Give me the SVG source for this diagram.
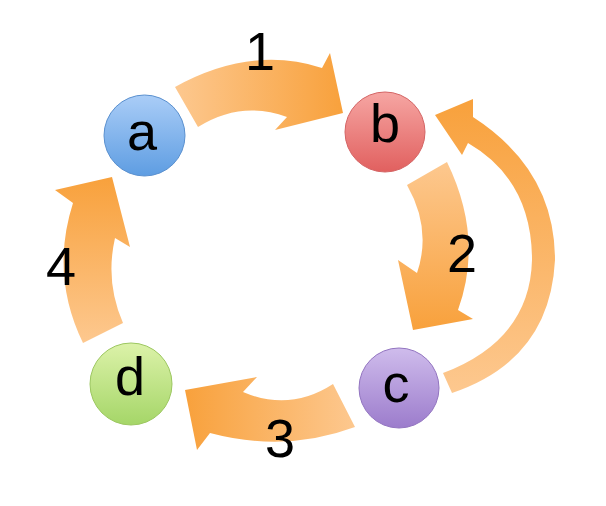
<svg xmlns="http://www.w3.org/2000/svg" width="606" height="506" viewBox="0 0 606 506">
<defs>
<style>
.arrow{stroke:none}
.lbl{font-family:"Liberation Sans",Arial,sans-serif;font-size:54px;fill:#000;text-anchor:middle}
.node{stroke-width:1}
</style>
<linearGradient id="g1" gradientUnits="userSpaceOnUse" x1="175" y1="0" x2="343" y2="0"><stop offset="0" stop-color="#fdc88f"/><stop offset="1" stop-color="#f8a13c"/></linearGradient>
<linearGradient id="g2" gradientUnits="userSpaceOnUse" x1="0" y1="162" x2="0" y2="330"><stop offset="0" stop-color="#fdc88f"/><stop offset="1" stop-color="#f8a13c"/></linearGradient>
<linearGradient id="g3" gradientUnits="userSpaceOnUse" x1="355" y1="0" x2="185" y2="0"><stop offset="0" stop-color="#fdc88f"/><stop offset="1" stop-color="#f8a13c"/></linearGradient>
<linearGradient id="g4" gradientUnits="userSpaceOnUse" x1="0" y1="343" x2="0" y2="177"><stop offset="0" stop-color="#fdc88f"/><stop offset="1" stop-color="#f8a13c"/></linearGradient>
<linearGradient id="g5" gradientUnits="userSpaceOnUse" x1="450" y1="393" x2="445" y2="100"><stop offset="0" stop-color="#fdc88f"/><stop offset="1" stop-color="#f8a13c"/></linearGradient>
<linearGradient id="ga" x1="0" y1="0" x2="0" y2="1"><stop offset="0" stop-color="#aacdf7"/><stop offset="1" stop-color="#5e9de2"/></linearGradient>
<linearGradient id="gb" x1="0" y1="0" x2="0" y2="1"><stop offset="0" stop-color="#f6a6a3"/><stop offset="1" stop-color="#e1605f"/></linearGradient>
<linearGradient id="gc" x1="0" y1="0" x2="0" y2="1"><stop offset="0" stop-color="#cfbcec"/><stop offset="1" stop-color="#9c7ccc"/></linearGradient>
<linearGradient id="gd" x1="0" y1="0" x2="0" y2="1"><stop offset="0" stop-color="#dcf2a9"/><stop offset="1" stop-color="#a5d668"/></linearGradient>
</defs>
<rect width="606" height="506" fill="#fff"/>
<g id="connectors">
<path class="arrow" fill="url(#g1)" d="M175,87 Q251,45 322,68 L330,53 L343,113 L275,130 L287,117 Q241,100 198,127 Z"/>
<path class="arrow" fill="url(#g2)" d="M447,162 Q484,238 458,310 L473,319 L413,330 L398,260 L417,273 Q432,229 407,185 Z"/>
<path class="arrow" fill="url(#g3)" d="M333,384 Q290,412 243,392 L257,377 L185,390 L197,450 L210,433 Q285,453 355,427 Z"/>
<path class="arrow" fill="url(#g4)" d="M123,323 Q105,282 115,238 L130,247 L112,177 L55,190 L73,203 Q50,275 83,343 Z"/>
<path class="arrow" fill="url(#g5)" d="M452,393 Q550,360 555,260 Q555,170 473,117 L473,99 L435,115 L462,155 L468,143 Q532,180 532,260 Q530,340 443,373 Z"/>
<text class="lbl" x="260" y="70">1</text>
<text class="lbl" x="462" y="272">2</text>
<text class="lbl" x="280" y="457">3</text>
<text class="lbl" x="61" y="285">4</text>
</g>
<g id="node-a">
<circle class="node" cx="144.5" cy="135.5" r="40.5" fill="url(#ga)" stroke="#5a90cf"/>
<text class="lbl" x="142" y="150">a</text>
</g>
<g id="node-b">
<circle class="node" cx="385" cy="132" r="40" fill="url(#gb)" stroke="#d46464"/>
<text class="lbl" x="385" y="142">b</text>
</g>
<g id="node-c">
<circle class="node" cx="399" cy="388" r="40" fill="url(#gc)" stroke="#9274c0"/>
<text class="lbl" x="396" y="402">c</text>
</g>
<g id="node-d">
<circle class="node" cx="131" cy="384" r="41" fill="url(#gd)" stroke="#9cc760"/>
<text class="lbl" x="130" y="395">d</text>
</g>
</svg>
